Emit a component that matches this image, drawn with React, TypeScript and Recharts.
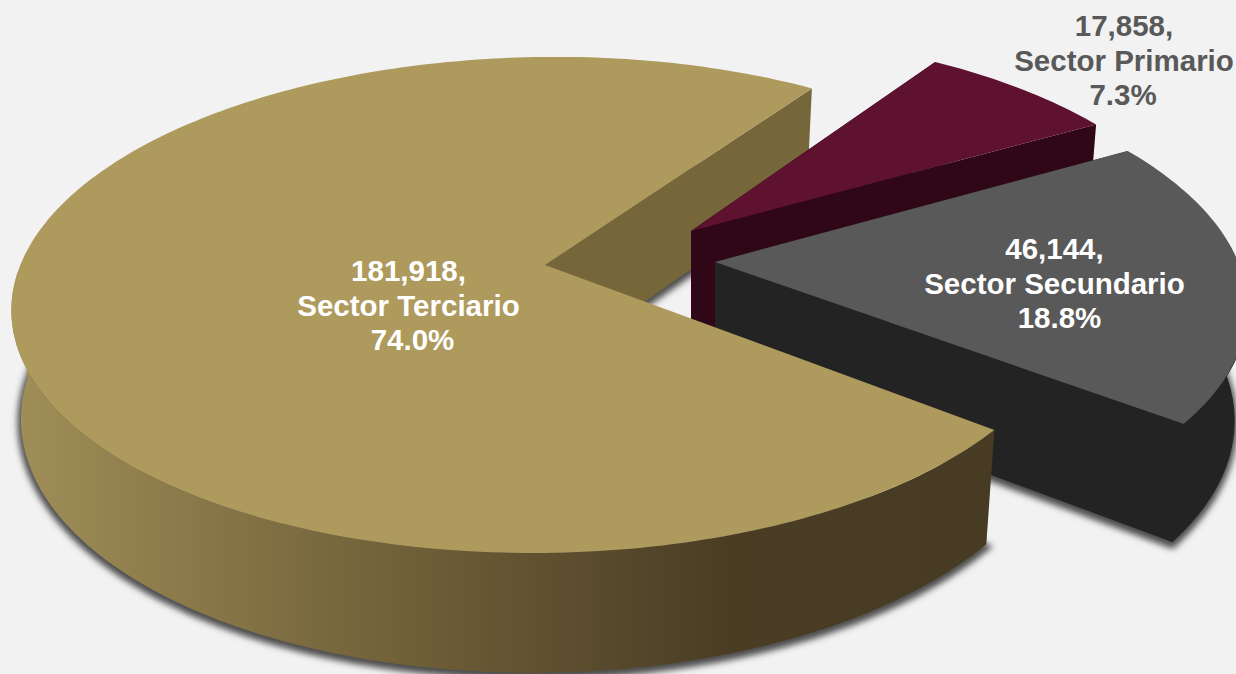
import { PieChart, Pie } from 'recharts';

const SECTOR_NAMES = ['Sector Primario', 'Sector Secundario', 'Sector Terciario'];
const SECTOR_VALUES = [17858, 46144, 181918];

const chartData = SECTOR_NAMES.map((name, i) => ({ name, value: SECTOR_VALUES[i] }));

// look of each slice: top face, side walls, apex position on the page and stretch of the tilted disc
const SLICE_STYLE: Record<string, any> = {
  'Sector Primario': {
    top: '#5E1230', wall: '#2F0716', rim: '#2F0716', seam: '#2F0716',
    ax: 691, ay: 231, sx: 5.09, sxLeft: 5.09, sy: 2.31, skewX: 19, skewY: -3.7, taper: 0.98, extra: 0,
    label: { x: 1124, y: 36, percentDx: -1, color: '#595959' },
  },
  'Sector Secundario': {
    top: '#595959', wall: '#232323', rim: '#232323', seam: '#232323',
    ax: 715, ay: 262, sx: 5.21, sxLeft: 5.21, sy: 2.39, skewX: 24, skewY: -5, taper: 0.975, extra: 4,
    label: { x: 1054.5, y: 259, percentDx: 5, color: '#FFFFFF' },
  },
  'Sector Terciario': {
    top: '#AE9A5C', wall: '#76673B', rim: 'url(#rimGold)', seam: 'none',
    ax: 545, ay: 265, sx: 5.21, sxLeft: 5.26, sy: 2.416, skewX: -4, skewY: -3.5, taper: 0.982, extra: 0,
    label: { x: 408.5, y: 281, percentDx: 4, color: '#FFFFFF' },
  },
};

const BACK_SLICE = 'Sector Terciario';
const PERSPECTIVE = 0.161;
const LINE_HEIGHT = 34.5;

const project = (s: any, radius: number, angle: number) => {
  const rad = (angle * Math.PI) / 180;
  const X = Math.cos(rad);
  const Y = -Math.sin(rad);
  const w = 1 - PERSPECTIVE * Y;
  const stretch = X < 0 ? s.sxLeft : s.sx;
  return [
    s.ax + (radius * stretch * X + s.skewX * Y) / w,
    s.ay + (radius * s.sy * Y + s.skewY * X) / w,
  ];
};

// same point on the underside of the disc
const drop = (s: any, p: number[]) => [
  s.ax + (p[0] - s.ax) * s.taper,
  p[1] + 95 + s.extra + 0.045 * p[1],
];

const toPath = (pts: number[][]) =>
  pts.map((p, i) => `${i === 0 ? 'M' : 'L'}${p[0].toFixed(1)},${p[1].toFixed(1)}`).join(' ') + ' Z';

const SliceShape = (props: any) => {
  const { name, outerRadius, startAngle, endAngle, layer } = props;
  const s = SLICE_STYLE[name];

  const angles: number[] = [];
  const steps = Math.ceil(Math.abs(endAngle - startAngle));
  for (let i = 0; i <= steps; i++) {
    angles.push(startAngle + ((endAngle - startAngle) * i) / steps);
  }
  const arc = angles.map((a) => project(s, outerRadius, a));
  const apex = [s.ax, s.ay];
  const arcLow = arc.map((p) => drop(s, p));
  const apexLow = drop(s, apex);
  const first = arc[0];
  const last = arc[arc.length - 1];

  // only the front half of the rim can be seen
  const front = angles.map((a, i) => (Math.sin((a * Math.PI) / 180) <= 0 ? i : -1)).filter((i) => i >= 0);
  const rimTop = front.map((i) => arc[i]);
  const rimLow = front.map((i) => arcLow[i]).reverse();

  const shadow = (
    <path
      d={toPath([apexLow, ...arcLow])}
      fill="#4D4D4D"
      stroke="#4D4D4D"
      strokeWidth={7}
      filter="url(#softShadow)"
      transform="translate(0,3)"
    />
  );
  const backWall = <path d={toPath([apex, last, drop(s, last), apexLow])} fill={s.wall} />;

  // the big slice has its cut wall behind the exploded slices but its face in front of them
  if (layer === 'back') {
    if (name !== BACK_SLICE) return <g />;
    return (
      <g>
        {shadow}
        {backWall}
      </g>
    );
  }
  return (
    <g>
      {name !== BACK_SLICE && shadow}
      {name !== BACK_SLICE && backWall}
      {name !== BACK_SLICE && <path d={toPath([apex, first, drop(s, first), apexLow])} fill={s.wall} />}
      {rimTop.length > 0 && <path d={toPath([...rimTop, ...rimLow])} fill={s.rim} stroke={s.seam} strokeWidth={1} />}
      <path d={toPath([apex, ...arc])} fill={s.top} />
    </g>
  );
};

const renderLabel = (props: any) => {
  const { name, value, percent } = props;
  const l = SLICE_STYLE[name].label;
  const lines = [`${value.toLocaleString('en-US')},`, name, `${(percent * 100).toFixed(1)}%`];
  return (
    <text
      key={name}
      x={l.x}
      y={l.y}
      textAnchor="middle"
      fill={l.color}
      fontFamily="'Liberation Sans', Arial, sans-serif"
      fontWeight="bold"
      fontSize={29.5}
    >
      {lines.map((line, i) => (
        <tspan key={i} x={i === 2 ? l.x + l.percentDx : l.x} y={l.y + i * LINE_HEIGHT}>
          {line}
        </tspan>
      ))}
    </text>
  );
};

export default function App() {
  return (
    <div style={{ position: 'fixed', left: 0, top: 0, width: 1236, height: 674, background: '#F2F2F2', overflow: 'hidden' }}>
      <PieChart width={1236} height={674} margin={{ top: 0, right: 0, bottom: 0, left: 0 }}>
        <defs>
          <linearGradient id="rimGold" gradientUnits="userSpaceOnUse" x1="12" y1="0" x2="993" y2="0">
            <stop offset="0" stopColor="#A08F58" />
            <stop offset="0.29" stopColor="#7C6C40" />
            <stop offset="0.727" stopColor="#4A3D24" />
            <stop offset="1" stopColor="#483B24" />
          </linearGradient>
          <filter id="softShadow" x="-10%" y="-10%" width="120%" height="120%">
            <feGaussianBlur stdDeviation="3" />
          </filter>
        </defs>
        <Pie
          data={chartData}
          dataKey="value"
          nameKey="name"
          cx={618}
          cy={337}
          outerRadius={100}
          startAngle={55}
          endAngle={-305}
          stroke="none"
          shape={(p: any) => <SliceShape {...p} layer="back" />}
          isAnimationActive={false}
        />
        <Pie
          data={chartData}
          dataKey="value"
          nameKey="name"
          cx={618}
          cy={337}
          outerRadius={100}
          startAngle={55}
          endAngle={-305}
          stroke="none"
          shape={(p: any) => <SliceShape {...p} layer="front" />}
          label={renderLabel}
          labelLine={false}
          isAnimationActive={false}
        />
      </PieChart>
    </div>
  );
}
